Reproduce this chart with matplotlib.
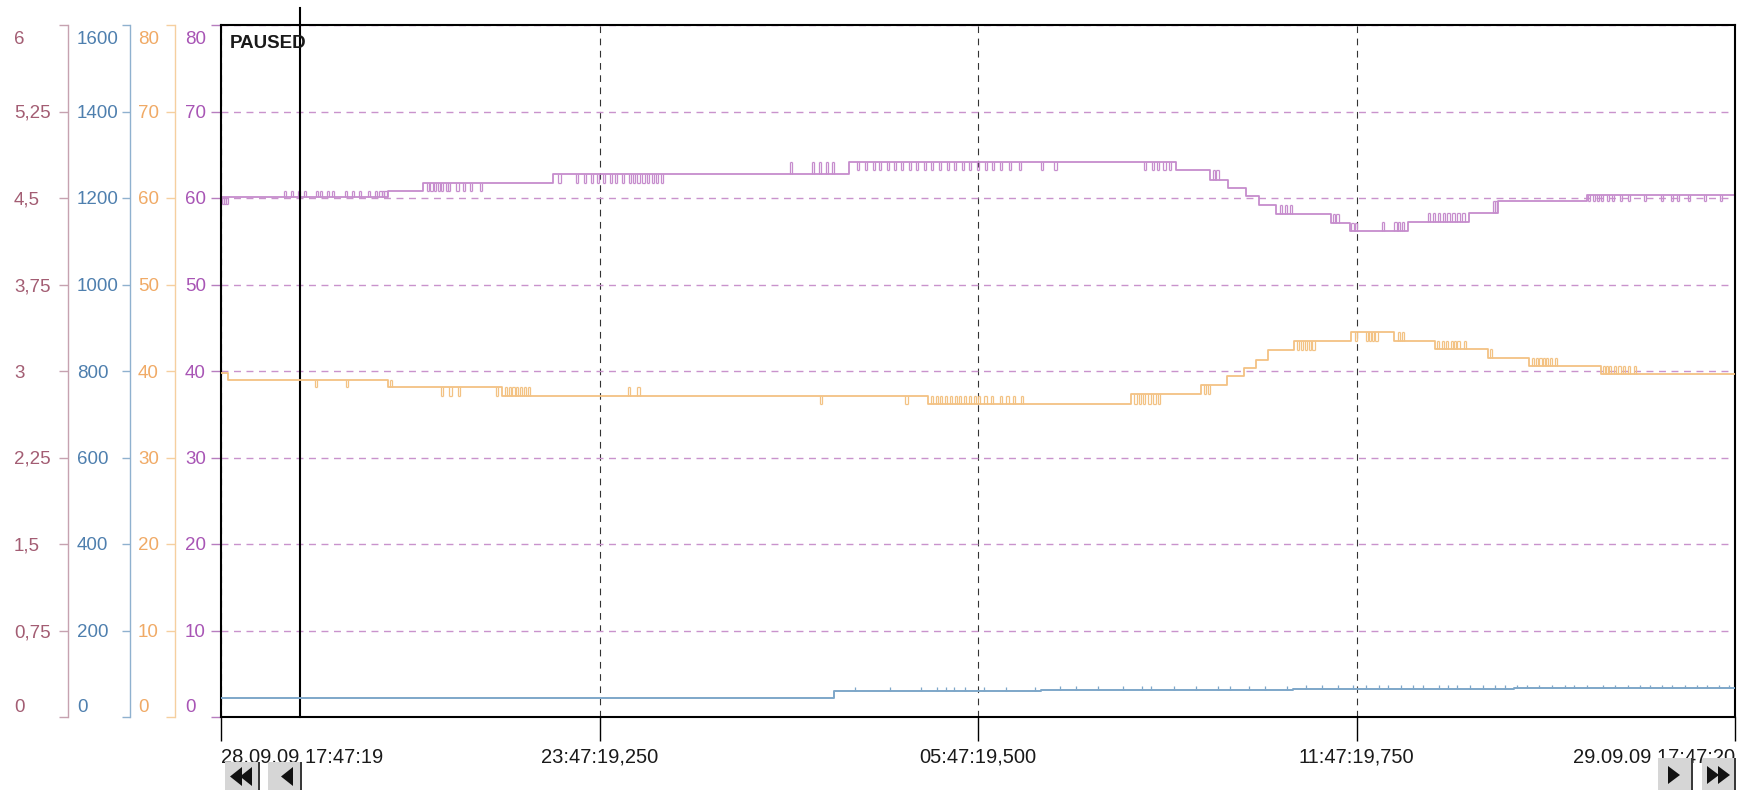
import numpy as np
import matplotlib.pyplot as plt
from matplotlib.transforms import ScaledTranslation
from matplotlib.patches import Rectangle, Polygon

plt.rcParams['font.family'] = ['Liberation Sans', 'DejaVu Sans']

# time axis in hours after 28.09.09 17:47:19
x_ticks = [0, 6, 12, 18, 24]
x_labels = ['28.09.09 17:47:19', '23:47:19,250', '05:47:19,500',
            '11:47:19,750', '29.09.09 17:47:20']
cursor_h = 1.25

# purple trace (scale 0..80)
p_t = [0, 2.65, 3.2, 5.27, 9.95, 15.14, 15.68, 15.97, 16.25, 16.46, 16.73,
       17.59, 17.89, 18.82, 19.78, 20.25, 21.65, 24]
p_v = [60.1, 60.8, 61.7, 62.8, 64.2, 63.2, 62.1, 61.1, 60.2, 59.2, 58.1,
       57.1, 56.2, 57.2, 58.3, 59.6, 60.4, 60.4]
p_blip_t = [0.02, 0.05, 0.08,
            1.0, 1.11, 1.22, 1.32, 1.5, 1.57, 1.68, 1.76, 1.97, 2.08, 2.19, 2.33, 2.44, 2.51, 2.55, 2.59,
            3.27, 3.32, 3.38, 3.44, 3.49, 3.56, 3.6, 3.73, 3.84, 3.95, 4.1,
            5.35, 5.63, 5.75, 5.86, 5.96, 6.06, 6.17, 6.25, 6.35, 6.46, 6.53, 6.6, 6.68, 6.75, 6.83, 6.89, 6.97,
            9.02, 9.37, 9.48, 9.59, 9.69,
            10.08, 10.21, 10.33, 10.43, 10.56, 10.67, 10.78, 10.9, 11.02, 11.14, 11.25, 11.38,
            11.51, 11.62, 11.75, 11.86, 11.98, 12.11, 12.22, 12.35, 12.49, 12.65, 13.0, 13.21,
            14.63, 14.76, 14.84, 14.94, 15.03,
            15.72, 15.78,
            16.78, 16.86, 16.95,
            17.62, 17.68, 17.92, 17.97,
            18.4, 18.6, 18.66, 18.72,
            19.13, 19.21, 19.29, 19.37, 19.44, 19.52, 19.6, 19.68,
            20.16, 20.2,
            21.67, 21.75, 21.81, 21.87, 21.97, 22.05, 22.17, 22.3, 22.56, 22.83, 22.99, 23.08, 23.25, 23.51, 23.76]
p_blip_v = ([59.3] * 3 + [60.8] * 16 + [60.8] * 11 + [61.7] * 17 + [64.2] * 5
            + [63.2] * 24 + [63.2] * 5 + [63.2] * 2 + [59.2] * 3 + [58.1] * 2 + [57.1] * 2
            + [57.2] * 4 + [58.3] * 8 + [59.6] * 2 + [59.6] * 15)

# orange trace (scale 0..80)
o_t = [0, 0.11, 2.64, 4.45, 11.2, 14.43, 15.53, 15.95, 16.22, 16.40, 16.59,
       17.01, 17.92, 18.60, 19.25, 20.09, 20.74, 21.87, 24]
o_v = [39.8, 39.0, 38.1, 37.1, 36.2, 37.3, 38.4, 39.4, 40.3, 41.3, 42.4,
       43.5, 44.5, 43.5, 42.5, 41.5, 40.6, 39.7, 39.7]
o_blip_t = [1.49, 1.98, 2.68, 3.49, 3.62, 3.75, 4.36,
            4.5, 4.56, 4.62, 4.68, 4.74, 4.8, 4.87, 6.45, 6.6, 9.5, 10.85,
            11.25, 11.33, 11.4, 11.48, 11.55, 11.63, 11.7, 11.78, 11.86, 11.93, 12.0, 12.1,
            12.2, 12.35, 12.45, 12.55, 12.68,
            14.48, 14.55, 14.62, 14.7, 14.78, 14.85, 15.58, 15.64,
            17.06, 17.12, 17.18, 17.24, 17.3,
            17.97, 18.15, 18.2, 18.25, 18.3, 18.65, 18.72,
            19.28, 19.35, 19.42, 19.5, 19.55, 19.6, 19.7, 20.12,
            20.78, 20.85, 20.9, 20.95, 21.0, 21.07, 21.15,
            21.9, 21.95, 22.0, 22.08, 22.15, 22.22, 22.3, 22.4]
o_blip_v = ([38.1] * 2 + [39.0] + [37.1] * 4 + [38.1] * 9 + [36.2] * 2 + [37.1] * 17
            + [36.2] * 6 + [37.3] * 2 + [42.4] * 5 + [43.5] * 5 + [44.5] * 2
            + [43.5] * 7 + [42.5] + [41.5] * 7 + [40.6] * 8)

# blue trace (scale 0..1600)
b_t = [0, 9.71, 13.0, 17.0, 20.5, 24]
b_v = [44, 60, 62, 64, 66, 66]
b_spike_t = [10.05, 10.6, 11.1, 11.35, 11.5, 11.62, 11.8, 12.1, 12.45, 12.9, 13.3, 13.55,
             13.9, 14.3, 14.6, 14.75, 15.1, 15.45, 15.8, 16.0, 16.3, 16.55, 16.9, 17.2,
             17.45, 17.7, 17.95, 18.15, 18.35, 18.5, 18.7, 18.9, 19.05, 19.3, 19.45, 19.6,
             19.8, 20.0, 20.2, 20.35, 20.55, 20.7, 20.9, 21.1, 21.3, 21.45, 21.65, 21.9,
             22.1, 22.3, 22.5, 22.65, 22.85, 23.0, 23.2, 23.4, 23.55, 23.75, 23.9]
b_spike_h = 9

# left scales
m_ticks = [0, 0.75, 1.5, 2.25, 3, 3.75, 4.5, 5.25, 6]
m_labels = ['0', '0,75', '1,5', '2,25', '3', '3,75', '4,5', '5,25', '6']
b_ticks = list(range(0, 1601, 200))
o_ticks = list(range(0, 81, 10))
p_ticks = list(range(0, 81, 10))

PULSE = 0.035  # width of a short toggle, hours


def level_at(t, v, x):
    idx = np.searchsorted(t, x, side='right') - 1
    return np.asarray(v)[idx]


def trace(a, t, v, bt, bv, color):
    a.step(t, v, where='post', color=color, lw=1.3)
    bt = np.asarray(bt)
    base = level_at(t, v, bt)
    a.vlines(bt, base, bv, color=color, lw=0.9)
    a.vlines(bt + PULSE, base, bv, color=color, lw=0.9)
    a.hlines(bv, bt, bt + PULSE, color=color, lw=0.9)


W, H = 1745, 790
fig = plt.figure(figsize=(W / 100, H / 100), dpi=100)
ax = fig.add_axes([221 / W, 73 / H, 1514 / W, 692 / H])
ax_o = ax.twinx()
ax_b = ax.twinx()
ax_m = ax.twinx()

ax.set_xlim(0, 24)
ax.set_ylim(0, 80)
ax_o.set_ylim(0, 80)
ax_b.set_ylim(0, 1600)
ax_m.set_ylim(0, 6)

for s in ax.spines.values():
    s.set_color('black')
    s.set_linewidth(1.5)

# grid
ax.set_xticks(x_ticks)
ax.set_xticklabels(x_labels)
ax.set_yticks(p_ticks)
ax.set_yticklabels([str(v) for v in p_ticks])
ax.xaxis.grid(True, color='#333333', ls=(0, (6, 5)), lw=0.8)
ax.yaxis.grid(True, color='#c993cc', ls=(0, (5, 4)), lw=1.0)
ax.tick_params(axis='x', length=17, width=1, color='black', pad=5,
               labelsize=14.5, labelcolor='#1a1a1a')
ax.tick_params(axis='y', length=7.2, width=1, color='#b77dbf', pad=18.7,
               labelsize=13.5, labelcolor='#a855b5')
xl = ax.get_xticklabels()
xl[0].set_ha('left')
xl[-1].set_ha('right')


def left_scale(a, offset, color, spine_color, ticks, labels, tick_len, pad):
    for s in ['right', 'top', 'bottom']:
        a.spines[s].set_visible(False)
    a.spines['left'].set_visible(True)
    a.spines['left'].set_position(('outward', offset))
    a.spines['left'].set_color(spine_color)
    a.spines['left'].set_linewidth(1.0)
    a.yaxis.set_ticks_position('left')
    a.set_yticks(ticks)
    a.set_yticklabels(labels)
    a.tick_params(axis='y', length=tick_len, width=1, color=spine_color, pad=pad,
                  labelsize=13.5, labelcolor=color)


left_scale(ax_o, 33.1, '#f0aa66', '#f5cf9f', o_ticks, [str(v) for v in o_ticks], 6.5, 20.2)
left_scale(ax_b, 65.5, '#4e7fae', '#8fb1cf', b_ticks, [str(v) for v in b_ticks], 5.8, 32.4)
left_scale(ax_m, 110.2, '#a35d73', '#c6a2b0', m_ticks, m_labels, 6.5, 32.4)

for a in [ax, ax_o, ax_b, ax_m]:
    labs = a.get_yticklabels()
    plt.setp(labs, ha='left')
    labs[0].set_transform(labs[0].get_transform() + ScaledTranslation(0, 0.11, fig.dpi_scale_trans))
    labs[-1].set_transform(labs[-1].get_transform() + ScaledTranslation(0, -0.12, fig.dpi_scale_trans))

# traces
trace(ax, p_t, p_v, p_blip_t, p_blip_v, '#c68ccd')
trace(ax_o, o_t, o_v, o_blip_t, o_blip_v, '#f3c283')
ax_b.step(b_t, b_v, where='post', color='#7ea7c9', lw=1.4)
b_base = level_at(b_t, b_v, b_spike_t)
ax_b.vlines(b_spike_t, b_base, b_base + b_spike_h, color='#7ea7c9', lw=0.9)

# cursor
ax.axvline(cursor_h, ymin=0, ymax=(717 - 8) / 692, color='black', lw=1.5,
           clip_on=False, zorder=5)
fig.text(230 / W, 1 - 44 / H, 'PAUSED', va='center', ha='left', fontsize=13.5,
         weight='bold', color='#1a1a1a')


# scroll buttons (pixel geometry, y measured from the top)
def fpt(x, y):
    return (x / W, 1 - y / H)


def button(x0, y0, x1, tris):
    fig.add_artist(Rectangle(fpt(x0, H), (x1 - x0) / W, (H - y0) / H,
                             transform=fig.transFigure, facecolor='#d6d6d6',
                             edgecolor='none'))
    fig.add_artist(Rectangle(fpt(x1 - 2, H), 2 / W, (H - y0) / H,
                             transform=fig.transFigure, facecolor='#3a3a3a',
                             edgecolor='none'))
    for (tx0, tx1, ty0, ty1, pointing_left) in tris:
        ym = (ty0 + ty1) / 2
        if pointing_left:
            pts = [fpt(tx1, ty0), fpt(tx1, ty1), fpt(tx0, ym)]
        else:
            pts = [fpt(tx0, ty0), fpt(tx0, ty1), fpt(tx1, ym)]
        fig.add_artist(Polygon(pts, closed=True, transform=fig.transFigure,
                               facecolor='#111111', edgecolor='none'))


button(225, 762, 260, [(230, 242, 767, 786, True), (240, 252, 767, 786, True)])
button(268, 762, 302, [(281, 293, 767, 786, True)])
button(1658, 758, 1693, [(1668, 1680, 766, 784, False)])
button(1702, 758, 1736, [(1707, 1719, 766, 784, False), (1718, 1730, 766, 784, False)])

fig.savefig('out.png', dpi=100)
